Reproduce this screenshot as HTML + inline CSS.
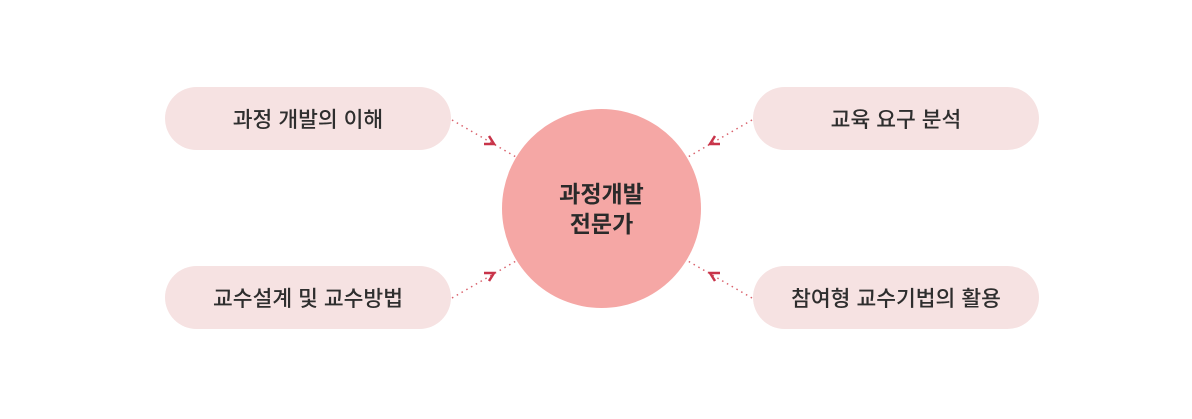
<!DOCTYPE html>
<html><head><meta charset="utf-8"><style>
body{margin:0;width:1192px;height:419px;background:#fff;position:relative;overflow:hidden;font-family:"Liberation Sans","Noto Sans CJK KR",sans-serif;}
.p{position:absolute;width:286px;height:63px;border-radius:32px;background:#f6e2e2;color:#2e2e2e;font-size:21.5px;font-weight:500;display:flex;align-items:center;justify-content:center;}
.c{position:absolute;left:502px;top:109px;width:199px;height:199px;border-radius:50%;background:#f5a7a5;color:#2a2a2a;font-size:23px;font-weight:bold;display:flex;align-items:center;justify-content:center;text-align:center;line-height:30px;}
svg{position:absolute;left:0;top:0}
</style></head><body>
<div class="p" style="left:165px;top:87px">과정 개발의 이해</div>
<div class="p" style="left:753px;top:87px">교육 요구 분석</div>
<div class="p" style="left:165px;top:266px">교수설계 및 교수방법</div>
<div class="p" style="left:753px;top:266px">참여형 교수기법의 활용</div>
<svg width="1192" height="419">
<g stroke="#d9606b" stroke-width="1.5" stroke-dasharray="1.5 4" fill="none">
<line x1="452" y1="120" x2="516" y2="157"/>
<line x1="752" y1="120" x2="688" y2="157"/>
<line x1="452" y1="298" x2="516" y2="261"/>
<line x1="752" y1="298" x2="688" y2="261"/>
</g>
<g stroke="#c8344a" stroke-width="2.5" fill="none" stroke-linejoin="miter">
<polyline points="489,136 494,144 484,144"/>
<polyline points="715,136 710,144 720,144"/>
<polyline points="489,281 494,273 484,273"/>
<polyline points="715,281 710,273 720,273"/>
</g>
</svg>
<div class="c">과정개발<br>전문가</div>
</body></html>
